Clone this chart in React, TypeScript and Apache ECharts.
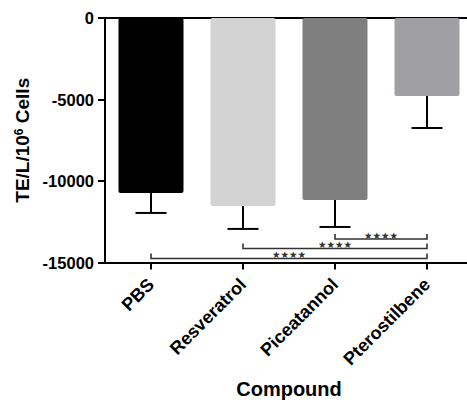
import React, { useEffect, useRef } from "react";
import * as echarts from "echarts";

const categories = ["PBS", "Resveratrol", "Piceatannol", "Pterostilbene"];
const barValues = [-10740, -11530, -11170, -4790];
const errLow = [-11960, -12940, -12820, -6750];
const barColors = ["#000000", "#d3d3d3", "#7f7f7f", "#a0a0a4"];
const yTicks = { min: -15000, max: 0, interval: 5000 };
// [fromIndex, toIndex, y level, label]
const brackets: [number, number, number, string][] = [
  [2, 3, -13560, "★★★★"],
  [1, 3, -14140, "★★★★"],
  [0, 3, -14750, "★★★★"],
];

const FONT = "Liberation Sans, Arial, sans-serif";

export default function App() {
  const ref = useRef<HTMLDivElement>(null);
  useEffect(() => {
    if (!ref.current) return;
    const chart = echarts.init(ref.current, null, { renderer: "svg" });
    const axisLine = { show: true, lineStyle: { color: "#000", width: 2 } };
    chart.setOption({
      animation: false,
      grid: { left: 105, top: 18, width: 368, height: 244.5, containLabel: false, outerBoundsMode: "none" },
      xAxis: [
        {
          type: "category",
          data: categories,
          position: "bottom",
          axisLine: { ...axisLine, onZero: false },
          axisTick: { show: true, alignWithLabel: true, length: 7, lineStyle: { color: "#000", width: 2 } },
          axisLabel: {
            rotate: 45,
            margin: 19,
            color: "#000",
            fontFamily: FONT,
            fontWeight: "bold",
            fontSize: 18,
          },
          name: "Compound",
          nameLocation: "middle",
          nameGap: 116,
          nameTextStyle: { color: "#000", fontFamily: FONT, fontWeight: "bold", fontSize: 20 },
        },
        {
          type: "category",
          data: categories,
          position: "top",
          axisLine: { ...axisLine, onZero: false },
          axisTick: { show: false },
          axisLabel: { show: false },
        },
      ],
      yAxis: {
        type: "value",
        min: yTicks.min,
        max: yTicks.max,
        interval: yTicks.interval,
        axisLine,
        axisTick: { show: true, length: 7, lineStyle: { color: "#000", width: 2 } },
        splitLine: { show: false },
        axisLabel: {
          color: "#000",
          fontFamily: FONT,
          fontWeight: "bold",
          fontSize: 16.5,
          margin: 11,
          formatter: (v: number) => String(v),
        },
        name: "{a|TE/L/10}{s|6}{a| Cells}",
        nameLocation: "middle",
        nameRotate: 90,
        nameGap: 68,
        nameTextStyle: {
          color: "#000",
          fontFamily: FONT,
          fontWeight: "bold",
          fontSize: 19,
          rich: {
            a: { fontFamily: FONT, fontWeight: "bold", fontSize: 19, color: "#000" },
            s: { fontFamily: FONT, fontWeight: "bold", fontSize: 12, color: "#000", verticalAlign: "top" },
          },
        },
      },
      series: [
        {
          type: "bar",
          barWidth: 65,
          data: barValues.map((v, i) => ({
            value: v,
            itemStyle: { color: barColors[i], borderRadius: 2 },
          })),
          z: 1,
        },
        {
          type: "custom",
          z: 3,
          data: categories.map((_, i) => [i, barValues[i], errLow[i]]),
          renderItem: (params: any, api: any) => {
            const top = api.coord([api.value(0), api.value(1)]);
            const lo = api.coord([api.value(0), api.value(2)]);
            const style = { stroke: "#000", lineWidth: 2 };
            return {
              type: "group",
              children: [
                { type: "line", shape: { x1: top[0], y1: top[1], x2: lo[0], y2: lo[1] }, style },
                { type: "line", shape: { x1: lo[0] - 15.5, y1: lo[1], x2: lo[0] + 15.5, y2: lo[1] }, style },
              ],
            };
          },
        },
        {
          type: "custom",
          z: 4,
          data: brackets.map((b) => [b[0], b[1], b[2], b[3]]),
          renderItem: (params: any, api: any) => {
            const b = brackets[params.dataIndex];
            const p1 = api.coord([api.value(0), api.value(2)]);
            const p2 = api.coord([api.value(1), api.value(2)]);
            return {
              type: "group",
              children: [
                {
                  type: "polyline",
                  shape: {
                    points: [
                      [p1[0], p1[1] - 5],
                      [p1[0], p1[1]],
                      [p2[0], p2[1]],
                      [p2[0], p2[1] - 5],
                    ],
                  },
                  style: { stroke: "#333", lineWidth: 1.6, fill: null },
                },
                {
                  type: "text",
                  x: (p1[0] + p2[0]) / 2,
                  y: p1[1] + 1.5,
                  style: {
                    text: b[3],
                    fill: "#333",
                    fontSize: 9.5,
                    fontFamily: "DejaVu Sans",
                    align: "center",
                    verticalAlign: "bottom",
                  },
                },
              ],
            };
          },
        },
      ],
    });
    return () => chart.dispose();
  }, []);
  return (
    <div
      ref={ref}
      style={{ position: "absolute", left: 0, top: 0, width: 467, height: 400 }}
    />
  );
}
